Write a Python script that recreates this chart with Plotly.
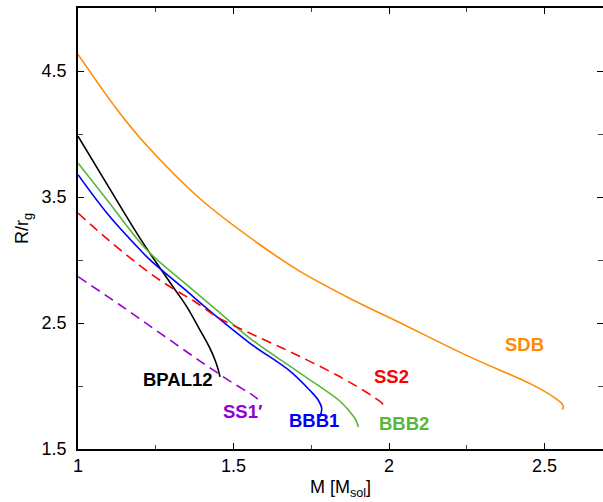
import plotly.graph_objects as go

# ---- data (M in solar masses, R in units of r_g) ----
sdb_m = [1.0, 1.1254, 1.2154, 1.3923, 1.5852, 1.7138, 1.8746, 2.0354, 2.2508, 2.4630, 2.5283, 2.5553, 2.5605, 2.5572]
sdb_r = [4.632, 4.195, 3.924, 3.486, 3.121, 2.910, 2.695, 2.502, 2.241, 2.007, 1.914, 1.861, 1.834, 1.813]

bpal12_m = [1.0, 1.0974, 1.2048, 1.3013, 1.3495, 1.3923, 1.4244, 1.4405, 1.4511, 1.4566]
bpal12_r = [3.982, 3.584, 3.152, 2.802, 2.630, 2.444, 2.298, 2.206, 2.128, 2.073]

bbb2_m = [1.0, 1.0974, 1.2209, 1.3386, 1.4460, 1.5531, 1.7138, 1.8424, 1.8746, 1.8939, 1.9013]
bbb2_r = [3.770, 3.465, 3.081, 2.826, 2.603, 2.378, 2.102, 1.879, 1.794, 1.728, 1.675]

bbb1_m = [1.0, 1.0974, 1.1994, 1.2315, 1.3386, 1.4460, 1.5531, 1.6817, 1.7460, 1.7727, 1.7836, 1.7781]
bbb1_r = [3.677, 3.359, 3.081, 3.001, 2.776, 2.550, 2.339, 2.118, 1.964, 1.887, 1.821, 1.755]

ss2_m = [1.0, 1.0974, 1.2315, 1.3119, 1.3762, 1.4460, 1.5424, 1.6389, 1.6817, 1.8424, 1.9495, 1.9817, 1.9765]
ss2_r = [3.373, 3.160, 2.895, 2.763, 2.669, 2.550, 2.431, 2.321, 2.272, 2.073, 1.914, 1.848, 1.821]

ss1_m = [1.0, 1.1350, 1.2637, 1.3923, 1.4984, 1.5531, 1.5723, 1.5852]
ss1_r = [2.868, 2.643, 2.420, 2.198, 2.023, 1.941, 1.907, 1.880]

labels = ["SDB", "BPAL12", "BBB2", "BBB1", "SS2", "SS1′"]
label_m = [2.437, 1.322, 2.047, 1.759, 2.008, 1.531]
label_r = [2.329, 2.051, 1.700, 1.728, 2.078, 1.800]

colors = {"SDB": "#FF8C00", "BPAL12": "#000000", "BBB2": "#55B83A",
          "BBB1": "#0000FF", "SS2": "#FF0000", "SS1′": "#9400D3"}

series = [
    ("SDB", sdb_m, sdb_r, "solid"),
    ("BPAL12", bpal12_m, bpal12_r, "solid"),
    ("BBB2", bbb2_m, bbb2_r, "solid"),
    ("BBB1", bbb1_m, bbb1_r, "solid"),
    ("SS2", ss2_m, ss2_r, "10px,6px"),
    ("SS1′", ss1_m, ss1_r, "10px,6px"),
]

font_family = "Liberation Sans, Arial, sans-serif"

fig = go.Figure()
for name, m, r, dash in series:
    fig.add_trace(go.Scatter(
        x=m, y=r, mode="lines", name=name,
        line=dict(color=colors[name], width=1.6, dash=dash, shape="spline", smoothing=1.0),
        showlegend=False, hoverinfo="skip",
    ))

# invisible trace to carry the right-hand tick axis
fig.add_trace(go.Scatter(x=[1.0], y=[1.5], yaxis="y2", mode="markers",
                         marker=dict(opacity=0), showlegend=False, hoverinfo="skip"))

for t, m, r in zip(labels, label_m, label_r):
    fig.add_annotation(x=m, y=r, text="<b>%s</b>" % t, showarrow=False,
                       font=dict(size=18.5, color=colors[t], family=font_family),
                       xanchor="center", yanchor="middle")

fig.update_layout(
    width=603, height=502,
    margin=dict(l=78, r=0, t=8, b=53),
    paper_bgcolor="white", plot_bgcolor="white",
    font=dict(family=font_family, size=18, color="black"),
    xaxis=dict(
        range=[1.0, 2.688], tick0=1.0, dtick=0.5,
        ticks="inside", ticklen=6, tickwidth=1.2, tickcolor="black",
        minor=dict(dtick=0.25, ticks="inside", ticklen=4, tickwidth=1, tickcolor="#444"),
        showline=True, linecolor="black", linewidth=1.5, mirror="ticks",
        showgrid=False, zeroline=False,
        title=dict(text="M [M<sub>sol</sub>]", standoff=5, font=dict(size=18)),
        tickfont=dict(size=18),
    ),
    yaxis=dict(
        range=[1.5, 5.0], tick0=1.5, dtick=1.0,
        ticks="inside", ticklen=6, tickwidth=1.2, tickcolor="black",
        minor=dict(dtick=0.5, tick0=1.5, ticks="inside", ticklen=5, tickwidth=1, tickcolor="#444"),
        showline=True, linecolor="black", linewidth=1.5, mirror=False,
        showgrid=False, zeroline=False, ticklabelstandoff=6,
        title=dict(text="R/r<sub>g</sub>", standoff=8, font=dict(size=18)),
        tickfont=dict(size=18),
    ),
    yaxis2=dict(
        overlaying="y", side="right", range=[1.5, 5.0], tick0=1.5, dtick=1.0,
        ticks="inside", ticklen=6, tickwidth=1.2, tickcolor="black",
        minor=dict(dtick=0.5, tick0=1.5, ticks="inside", ticklen=5, tickwidth=1, tickcolor="#444"),
        showline=False, showgrid=False, zeroline=False, showticklabels=False,
    ),
)

fig.write_html("out.html")
